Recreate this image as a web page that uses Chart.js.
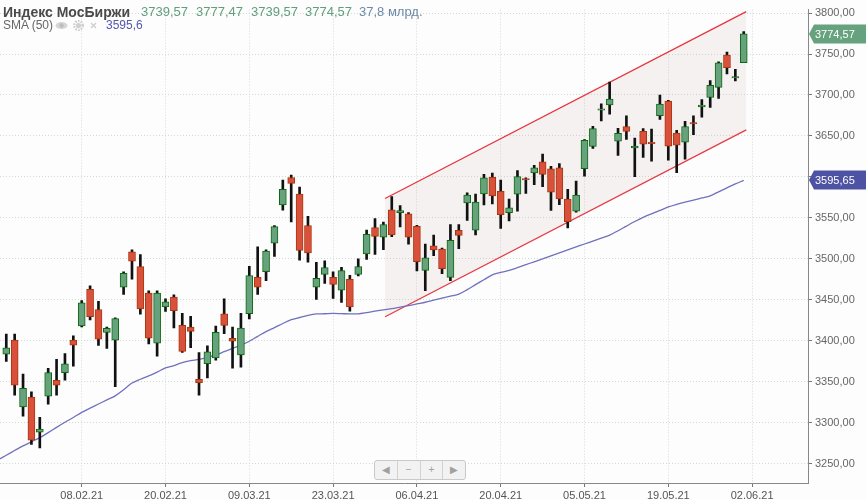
<!DOCTYPE html>
<html>
<head>
<meta charset="utf-8">
<script src="https://cdn.jsdelivr.net/npm/chart.js@4.4.0/dist/chart.umd.min.js"></script>
<style>
  body { margin: 0; background: #fdfdfd; font-family: "Liberation Sans", Arial, sans-serif; }
  #wrap { position: relative; width: 866px; height: 500px; }
  #legend { position: absolute; left: 0; top: 0; width: 440px; height: 36px; }
  #legend span { position: absolute; white-space: nowrap; }
  .t1 { top: 4px; font-size: 13px; line-height: 16px; }
  .t2 { top: 18px; font-size: 12px; line-height: 15px; }
  #nav { position: absolute; left: 374px; top: 460px; width: 90px; height: 18px; border: 1px solid #c9c9c9;
         border-radius: 3px; background: #f2f2f2; display: flex; }
  #nav div { flex: 1; text-align: center; color: #a0a0a0; font-size: 10px; line-height: 18px; border-left: 1px solid #d2d2d2; }
  #nav div:first-child { border-left: none; }
</style>
</head>
<body>
<div id="wrap">
  <canvas id="chart" width="866" height="500"></canvas>
  <div id="legend">
    <span class="t1" style="left:3px;font-weight:bold;font-size:14px;color:#4a4a4a">Индекс МосБиржи</span>
    <span class="t1" style="left:141px;color:#5f9f7b">3739,57</span>
    <span class="t1" style="left:196px;color:#5f9f7b">3777,47</span>
    <span class="t1" style="left:251px;color:#5f9f7b">3739,57</span>
    <span class="t1" style="left:305px;color:#5f9f7b">3774,57</span>
    <span class="t1" style="left:359px;color:#6d8aa6">37,8 млрд.</span>
    <span class="t2" style="left:3px;color:#666">SMA (50)</span>
    <span class="t2" style="left:55px;top:20px">
      <svg width="44" height="11" viewBox="0 0 44 11">
        <ellipse cx="6.5" cy="5.5" rx="6" ry="3.6" fill="#d6d6d6"/>
        <circle cx="6.5" cy="5.5" r="2.2" fill="#bdbdbd"/>
        <circle cx="23.5" cy="5.5" r="4.4" fill="none" stroke="#d0d0d0" stroke-width="2.4" stroke-dasharray="1.6 1.2"/>
        <circle cx="23.5" cy="5.5" r="2.6" fill="#d0d0d0"/>
        <path d="M36 3 L41 8 M41 3 L36 8" stroke="#cfcfcf" stroke-width="1.4"/>
      </svg>
    </span>
    <span class="t2" style="left:106px;color:#5357ae">3595,6</span>
  </div>
  <div id="nav"><div>&#9664;</div><div>&minus;</div><div>+</div><div>&#9654;</div></div>
</div>
<script>
// bar position 0 is 08.02.21, one tick label every 10 trading days
const tickLabels = ["08.02.21", "20.02.21", "09.03.21", "23.03.21", "06.04.21", "20.04.21", "05.05.21", "19.05.21", "02.06.21"];
const firstBar = -9;

const openVals = [3383.5, 3400.7, 3319.4, 3331.3, 3288.3, 3332.5, 3351.7, 3361.2, 3400.7, 3418.2,
  3462.9, 3438.2, 3410.3, 3400.7, 3465.3, 3508.4, 3490.4, 3458.1, 3397.1, 3441.4,
  3453.3, 3418.7, 3416.6, 3352.9, 3372.0, 3379.2, 3433.0, 3403.1, 3382.8, 3433.0,
  3477.3, 3484.4, 3519.1, 3565.8, 3599.3, 3579.0, 3540.7, 3465.3, 3480.9, 3477.3,
  3461.7, 3474.9, 3480.9, 3506.0, 3538.3, 3526.3, 3559.8, 3556.2, 3555.0, 3539.8,
  3486.0, 3515.9, 3512.0, 3477.3, 3534.7, 3568.2, 3535.0, 3579.3, 3599.6, 3582.5,
  3556.2, 3579.0, 3598.1, 3604.8, 3618.4, 3610.0, 3611.2, 3573.0, 3558.1, 3610.0,
  3637.1, 3681.3, 3687.8, 3643.5, 3661.5, 3635.5, 3655.5, 3642.3, 3674.6, 3692.6,
  3653.5, 3642.3, 3666.3, 3685.4, 3696.9, 3709.3, 3748.8, 3720.8, 3739.57];
const highVals = [3408.3, 3408.3, 3359.2, 3337.7, 3306.6, 3366.4, 3377.2, 3384.3, 3405.9, 3448.9,
  3466.9, 3448.1, 3416.6, 3428.0, 3484.0, 3511.1, 3505.1, 3460.9, 3460.9, 3451.3,
  3456.1, 3433.4, 3429.8, 3385.5, 3393.9, 3417.8, 3451.3, 3416.6, 3433.4, 3490.8,
  3514.7, 3511.1, 3540.5, 3596.1, 3602.1, 3587.7, 3551.8, 3495.6, 3497.6, 3484.0,
  3489.6, 3480.0, 3500.0, 3535.0, 3549.0, 3545.0, 3576.1, 3565.0, 3556.5, 3541.0,
  3517.9, 3529.1, 3513.0, 3541.9, 3541.9, 3580.5, 3578.9, 3603.0, 3604.8, 3596.1,
  3573.0, 3607.6, 3598.8, 3614.0, 3628.0, 3612.8, 3616.4, 3584.9, 3594.9, 3645.5,
  3661.8, 3689.3, 3715.7, 3659.4, 3674.6, 3647.5, 3659.1, 3658.3, 3699.8, 3693.5,
  3656.7, 3667.8, 3674.6, 3694.5, 3717.7, 3740.4, 3752.4, 3731.2, 3777.47];
const lowVals = [3374.8, 3333.7, 3308.1, 3273.4, 3269.1, 3322.5, 3333.7, 3352.0, 3369.1, 3417.0,
  3425.4, 3394.3, 3390.7, 3344.0, 3456.5, 3475.2, 3432.5, 3396.3, 3381.1, 3435.8,
  3415.8, 3385.9, 3391.5, 3333.7, 3354.8, 3376.3, 3408.6, 3366.7, 3367.9, 3426.6,
  3456.5, 3473.2, 3503.1, 3559.3, 3545.0, 3498.3, 3495.9, 3450.5, 3470.1, 3451.7,
  3446.9, 3436.1, 3479.2, 3499.2, 3505.5, 3511.1, 3527.0, 3539.0, 3517.9, 3485.2,
  3461.2, 3503.9, 3482.0, 3473.2, 3512.3, 3547.0, 3529.1, 3565.8, 3567.0, 3537.1,
  3546.2, 3558.1, 3579.7, 3590.4, 3588.0, 3559.0, 3566.2, 3537.8, 3556.9, 3600.8,
  3634.7, 3668.2, 3676.6, 3626.3, 3645.9, 3600.4, 3623.9, 3619.1, 3670.2, 3620.3,
  3605.3, 3621.5, 3651.4, 3673.0, 3684.9, 3695.7, 3725.6, 3717.2, 3739.57];
const closeVals = [3391.5, 3345.7, 3342.1, 3278.7, 3292.2, 3361.2, 3345.7, 3372.0, 3394.7, 3446.2,
  3429.4, 3401.9, 3415.1, 3427.0, 3482.4, 3497.1, 3439.0, 3403.1, 3458.1, 3447.4,
  3436.6, 3387.1, 3411.5, 3348.8, 3386.4, 3410.3, 3418.7, 3399.5, 3415.4, 3479.7,
  3465.3, 3509.6, 3539.5, 3584.9, 3592.1, 3510.3, 3507.2, 3476.1, 3489.2, 3468.9,
  3485.6, 3441.4, 3490.4, 3529.9, 3527.5, 3541.9, 3529.1, 3559.0, 3526.3, 3496.4,
  3501.2, 3510.8, 3488.0, 3522.7, 3528.7, 3577.8, 3569.4, 3598.8, 3576.9, 3553.8,
  3562.2, 3600.5, 3596.4, 3611.2, 3602.9, 3581.3, 3573.0, 3545.5, 3577.8, 3644.7,
  3659.1, 3683.0, 3695.0, 3653.1, 3655.5, 3637.6, 3640.0, 3640.6, 3689.0, 3637.6,
  3638.8, 3661.5, 3664.6, 3687.8, 3711.7, 3739.2, 3733.3, 3722.5, 3774.57];

// SMA (50), starts one bar before the first visible candle
const smaVals = [3254.5, 3260.3, 3266.1, 3271.7, 3276.7, 3281.7, 3287.9, 3294.3, 3300.5, 3306.3,
  3312.6, 3317.8, 3322.8, 3327.8, 3332.8, 3340.3, 3348.4, 3353.0, 3357.1, 3361.8,
  3366.9, 3369.6, 3373.3, 3375.7, 3377.3, 3379.8, 3382.8, 3386.7, 3390.7, 3394.7,
  3399.4, 3405.4, 3411.1, 3416.0, 3421.1, 3425.7, 3428.4, 3430.9, 3432.7, 3433.0,
  3433.4, 3433.1, 3432.8, 3432.9, 3434.4, 3436.2, 3437.8, 3439.1, 3441.0, 3442.9,
  3445.0, 3447.0, 3449.5, 3452.0, 3454.5, 3456.9, 3462.4, 3468.5, 3474.5, 3480.5,
  3483.4, 3485.8, 3489.2, 3492.8, 3496.4, 3500.0, 3503.7, 3507.3, 3510.9, 3514.5,
  3518.1, 3521.7, 3525.2, 3528.9, 3534.3, 3540.0, 3545.6, 3550.6, 3554.9, 3559.1,
  3563.3, 3566.4, 3569.1, 3571.6, 3574.3, 3576.9, 3581.8, 3586.6, 3591.5, 3595.65];

// hand drawn rising channel
const channelBars = [36.2, 79.3];
const channelUpper = [3573.7, 3801.7];
const channelLower = [3429.4, 3657.4];

const priceTags = [
  { value: 3774.57, color: "#66a27e" },
  { value: 3595.65, color: "#4e52a3" }
];

const fmt = v => v.toFixed(2).replace(".", ",");
const isUp = closeVals.map((c, i) => c >= openVals[i]);

const bodies = openVals.map((o, i) => ({ x: firstBar + i, y: [o, closeVals[i]] }));
const wicks = lowVals.map((l, i) => ({ x: firstBar + i, y: [l, highVals[i]] }));
const sma = smaVals.map((v, i) => ({ x: firstBar - 1 + i, y: v }));
const upper = channelBars.map((b, i) => ({ x: b, y: channelUpper[i] }));
const lower = channelBars.map((b, i) => ({ x: b, y: channelLower[i] }));

const tagPlugin = {
  id: "tags",
  afterDraw(chart) {
    const ctx = chart.ctx;
    const y = chart.scales.y;
    const x0 = chart.chartArea.right + 1;
    priceTags.forEach(t => {
      const py = Math.round(y.getPixelForValue(t.value));
      ctx.save();
      ctx.fillStyle = t.color;
      ctx.beginPath();
      ctx.moveTo(x0, py);
      ctx.lineTo(x0 + 5, py - 9.5);
      ctx.lineTo(866, py - 9.5);
      ctx.lineTo(866, py + 9.5);
      ctx.lineTo(x0 + 5, py + 9.5);
      ctx.closePath();
      ctx.fill();
      ctx.fillStyle = "#fff";
      ctx.font = "11px 'Liberation Sans', Arial, sans-serif";
      ctx.textBaseline = "middle";
      ctx.fillText(fmt(t.value), x0 + 6, py + 0.5);
      ctx.restore();
    });
  }
};

new Chart(document.getElementById("chart"), {
  type: "bar",
  data: {
    datasets: [
      {
        type: "bar",
        data: bodies,
        grouped: false,
        barThickness: 7,
        borderWidth: 1,
        borderSkipped: false,
        backgroundColor: isUp.map(u => (u ? "#66a27e" : "#d9513b")),
        borderColor: isUp.map(u => (u ? "#0e690e" : "#a8360f")),
        order: 1
      },
      {
        type: "bar",
        data: wicks,
        grouped: false,
        barThickness: 2,
        borderWidth: 0,
        backgroundColor: "#111",
        order: 2
      },
      {
        type: "line",
        data: sma,
        borderColor: "#6f71bd",
        borderWidth: 1.3,
        pointRadius: 0,
        tension: 0.3,
        order: 3
      },
      {
        type: "line",
        data: upper,
        borderColor: "#e8323c",
        borderWidth: 1.2,
        pointRadius: 0,
        fill: "+1",
        backgroundColor: "rgba(190,160,160,0.13)",
        order: 4
      },
      {
        type: "line",
        data: lower,
        borderColor: "#e8323c",
        borderWidth: 1.2,
        pointRadius: 0,
        fill: false,
        order: 4
      }
    ]
  },
  options: {
    responsive: false,
    animation: false,
    events: [],
    layout: { padding: 0 },
    plugins: {
      legend: { display: false },
      tooltip: { enabled: false }
    },
    scales: {
      x: {
        type: "linear",
        min: -9.75,
        max: 86.67,
        offset: false,
        afterFit: s => { s.height = 17; },
        ticks: {
          stepSize: 10,
          includeBounds: false,
          autoSkip: false,
          maxRotation: 0,
          padding: 2,
          color: "#555",
          font: { family: "'Liberation Sans', Arial, sans-serif", size: 11 },
          callback: v => tickLabels[v / 10] || ""
        },
        grid: { color: "#d3d9d3", offset: false, tickLength: 4, tickColor: "#777" },
        border: { color: "#888", dash: [1, 2] }
      },
      y: {
        position: "right",
        min: 3226.4,
        max: 3804.2,
        afterFit: s => { s.width = 58; },
        ticks: {
          stepSize: 50,
          includeBounds: false,
          padding: 3,
          color: "#666",
          font: { family: "'Liberation Sans', Arial, sans-serif", size: 11 },
          callback: v => fmt(v)
        },
        grid: { color: "#d3d9d3", tickLength: 4, tickColor: "#777" },
        border: { color: "#888", dash: [1, 2] }
      }
    }
  },
  plugins: [tagPlugin]
});
</script>
</body>
</html>
